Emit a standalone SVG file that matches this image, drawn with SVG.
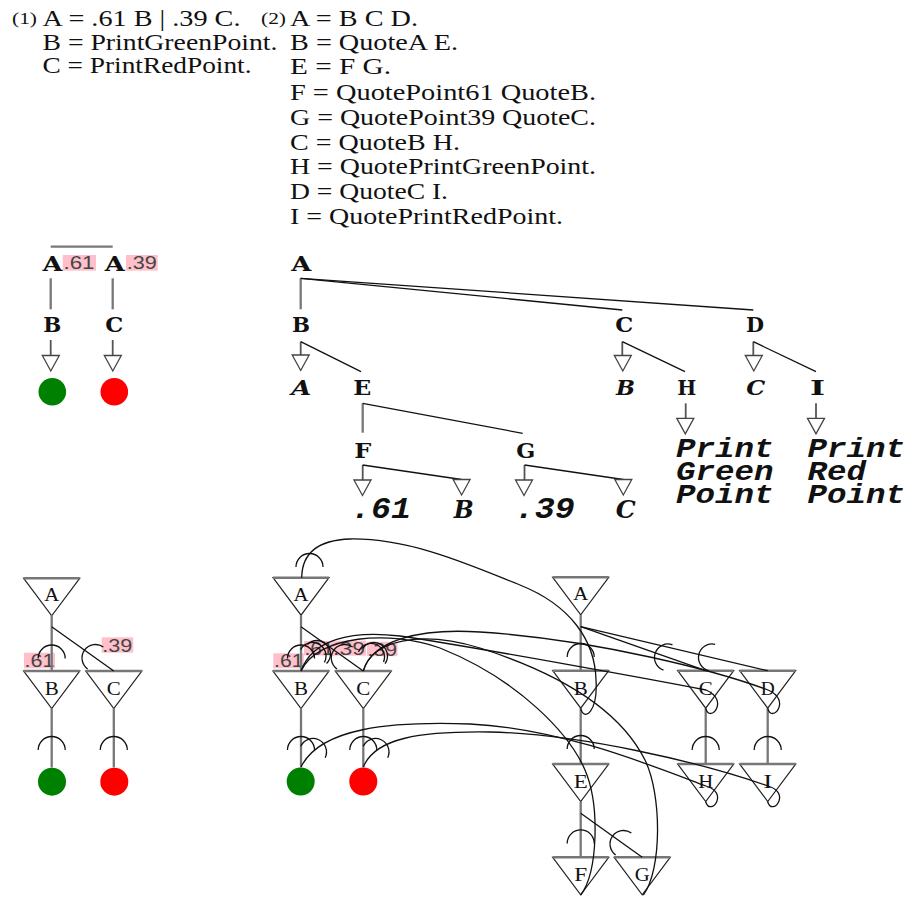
<svg xmlns="http://www.w3.org/2000/svg" width="906" height="905" viewBox="0 0 906 905">
<style>
.t{font-family:"Liberation Serif","Times New Roman",serif;font-size:23px;fill:#111}
.n{font-family:"DejaVu Serif","Liberation Serif",serif;font-weight:bold;font-size:20.5px;fill:#111;text-anchor:middle}
.q{font-family:"DejaVu Serif","Liberation Serif",serif;font-weight:bold;font-style:italic;font-size:20.5px;fill:#111;text-anchor:middle}
.qb{font-family:"DejaVu Serif","Liberation Serif",serif;font-weight:bold;font-style:italic;font-size:25px;fill:#111;text-anchor:middle}
.lf{font-family:"Liberation Mono","Courier New",monospace;font-weight:bold;font-style:italic;font-size:30px;fill:#111}
.pp{font-family:"Liberation Mono","Courier New",monospace;font-weight:bold;font-style:italic;font-size:27px;fill:#111}
.tl{font-family:"Liberation Serif","Times New Roman",serif;font-size:19px;fill:#111;text-anchor:middle}
.pl{font-family:"Liberation Sans",Arial,sans-serif;font-size:17.5px;fill:#444}
.pk{fill:#ffc0cb}
.g{stroke:#777;stroke-width:2.3;fill:none}
.k{stroke:#111;stroke-width:1.3;fill:none}
.s{stroke:#555;stroke-width:1.8;fill:none}
.ar{fill:#fff;stroke:#444;stroke-width:1.3}
.tri{fill:#fff;stroke:#222;stroke-width:1.2}
.top{stroke:#777;stroke-width:2.5}
.cv{stroke:#111;stroke-width:1.3;fill:none}
.gr{fill:#008000}
.rd{fill:#ff0000}
</style>
<defs>
<path id="cap" d="M-13.5,0 A13.5,13.5 0 0 1 13.5,0" fill="none" stroke="#111" stroke-width="1.3"/>
<path id="arr" d="M-8.5,0 L8.5,0 L0,15.5 Z" class="ar"/>
<path id="tri" d="M-28,0 L28,0 L0,37.5 Z" class="tri"/>
<line id="trit" x1="-28" y1="0" x2="28" y2="0" class="top"/>
</defs>

<g id="grammar1">
<text class="t" x="12" y="24" style="font-size:16.5px" textLength="25" lengthAdjust="spacingAndGlyphs">(1)</text>
<text class="t" x="42.5" y="25.5" textLength="198" lengthAdjust="spacingAndGlyphs">A = .61 B | .39 C.</text>
<text class="t" x="42.5" y="49.5" textLength="235" lengthAdjust="spacingAndGlyphs">B = PrintGreenPoint.</text>
<text class="t" x="42.5" y="73" textLength="209" lengthAdjust="spacingAndGlyphs">C = PrintRedPoint.</text>
</g>
<g id="grammar2">
<text class="t" x="261" y="24" style="font-size:16.5px" textLength="25" lengthAdjust="spacingAndGlyphs">(2)</text>
<text class="t" x="290" y="26" textLength="128" lengthAdjust="spacingAndGlyphs">A = B C D.</text>
<text class="t" x="290" y="50" textLength="168" lengthAdjust="spacingAndGlyphs">B = QuoteA E.</text>
<text class="t" x="290" y="74" textLength="101" lengthAdjust="spacingAndGlyphs">E = F G.</text>
<text class="t" x="290" y="99.5" textLength="306" lengthAdjust="spacingAndGlyphs">F = QuotePoint61 QuoteB.</text>
<text class="t" x="290" y="124.5" textLength="306" lengthAdjust="spacingAndGlyphs">G = QuotePoint39 QuoteC.</text>
<text class="t" x="290" y="149.5" textLength="170" lengthAdjust="spacingAndGlyphs">C = QuoteB H.</text>
<text class="t" x="290" y="174" textLength="306" lengthAdjust="spacingAndGlyphs">H = QuotePrintGreenPoint.</text>
<text class="t" x="290" y="199" textLength="158" lengthAdjust="spacingAndGlyphs">D = QuoteC I.</text>
<text class="t" x="290" y="224" textLength="273" lengthAdjust="spacingAndGlyphs">I = QuotePrintRedPoint.</text>
</g>

<!-- top-left tree -->
<g id="t1-edges">
<line class="g" x1="50.7" y1="246.7" x2="112.7" y2="246.7"/>
<line class="g" x1="50.7" y1="278.3" x2="50.7" y2="309.3"/>
<line class="g" x1="112.7" y1="278.3" x2="112.7" y2="309.3"/>
<line class="s" x1="50.7" y1="340" x2="50.7" y2="355"/>
<line class="s" x1="112.7" y1="340" x2="112.7" y2="355"/>
<use href="#arr" transform="translate(50.8,355.5)"/>
<use href="#arr" transform="translate(112.8,355.5)"/>
</g>
<g id="t1-A1"><text class="n" x="52.5" y="270.5" textLength="20" lengthAdjust="spacingAndGlyphs">A</text><rect class="pk" x="62.7" y="255" width="33.3" height="15.7"/><text class="pl" x="63.5" y="269" textLength="31" lengthAdjust="spacingAndGlyphs">.61</text></g>
<g id="t1-A2"><text class="n" x="114.7" y="270.5" textLength="20" lengthAdjust="spacingAndGlyphs">A</text><rect class="pk" x="126" y="255" width="31.7" height="15.7"/><text class="pl" x="126.8" y="269" textLength="30" lengthAdjust="spacingAndGlyphs">.39</text></g>
<g id="t1-B"><text class="n" x="52.2" y="331.7" textLength="18" lengthAdjust="spacingAndGlyphs">B</text></g>
<g id="t1-C"><text class="n" x="114.3" y="331.7" textLength="18" lengthAdjust="spacingAndGlyphs">C</text></g>
<g id="t1-green"><circle class="gr" cx="52.3" cy="391.7" r="13.8"/></g>
<g id="t1-red"><circle class="rd" cx="114.3" cy="391.7" r="13.8"/></g>

<!-- top-middle tree -->
<g id="t2-edges">
<line class="g" x1="300.7" y1="278.3" x2="300.7" y2="309.3"/>
<line class="k" x1="300.7" y1="278.3" x2="622.3" y2="310"/>
<line class="k" x1="300.7" y1="278.3" x2="753.3" y2="310"/>
<line class="s" x1="300.7" y1="341.7" x2="300.7" y2="355"/>
<use href="#arr" transform="translate(300.7,355)"/>
<line class="k" x1="300.7" y1="341.7" x2="361" y2="371.7"/>
<line class="g" x1="362.7" y1="403.3" x2="362.7" y2="432.7"/>
<line class="k" x1="362.7" y1="403.3" x2="522.7" y2="433.3"/>
<line class="s" x1="362.7" y1="465" x2="362.7" y2="480"/>
<use href="#arr" transform="translate(362.5,480)"/>
<line class="k" x1="362.7" y1="465" x2="461.6" y2="479.5"/>
<use href="#arr" transform="translate(461.6,479.5)"/>
<line class="s" x1="524.5" y1="465" x2="524.5" y2="480"/>
<use href="#arr" transform="translate(524,480)"/>
<line class="k" x1="524.5" y1="465" x2="623.3" y2="479.5"/>
<use href="#arr" transform="translate(623.3,479.5)"/>
<line class="s" x1="622.3" y1="341.7" x2="622.3" y2="355.5"/>
<use href="#arr" transform="translate(622.8,355.5)"/>
<line class="k" x1="622.3" y1="341.7" x2="685" y2="371.7"/>
<line class="s" x1="753.3" y1="341.7" x2="753.3" y2="355.5"/>
<use href="#arr" transform="translate(753.8,355.5)"/>
<line class="k" x1="753.3" y1="341.7" x2="816" y2="371.7"/>
<line class="s" x1="685.7" y1="403.3" x2="685.7" y2="418.3"/>
<use href="#arr" transform="translate(685.3,418.3)"/>
<line class="s" x1="816" y1="403.3" x2="816" y2="418.3"/>
<use href="#arr" transform="translate(816,418.3)"/>
</g>
<g id="t2-A"><text class="n" x="301.2" y="270.7" textLength="20" lengthAdjust="spacingAndGlyphs">A</text></g>
<g id="t2-B"><text class="n" x="301" y="331.7" textLength="18" lengthAdjust="spacingAndGlyphs">B</text></g>
<g id="t2-qA"><text class="q" x="301.3" y="395" textLength="20" lengthAdjust="spacingAndGlyphs">A</text></g>
<g id="t2-E"><text class="n" x="362.3" y="395" textLength="18" lengthAdjust="spacingAndGlyphs">E</text></g>
<g id="t2-F"><text class="n" x="362.8" y="458" textLength="17" lengthAdjust="spacingAndGlyphs">F</text></g>
<g id="t2-G"><text class="n" x="525.8" y="458" textLength="19" lengthAdjust="spacingAndGlyphs">G</text></g>
<g id="t2-p61"><text class="lf" x="351" y="518" textLength="60" lengthAdjust="spacingAndGlyphs">.61</text></g>
<g id="t2-qB2"><text class="qb" x="463.8" y="518" textLength="20" lengthAdjust="spacingAndGlyphs">B</text></g>
<g id="t2-p39"><text class="lf" x="514.7" y="518" textLength="60" lengthAdjust="spacingAndGlyphs">.39</text></g>
<g id="t2-qC2"><text class="qb" x="625.8" y="518" textLength="20" lengthAdjust="spacingAndGlyphs">C</text></g>
<g id="t2-C"><text class="n" x="624.3" y="331.7" textLength="18" lengthAdjust="spacingAndGlyphs">C</text></g>
<g id="t2-qB"><text class="q" x="625.5" y="395" textLength="19" lengthAdjust="spacingAndGlyphs">B</text></g>
<g id="t2-H"><text class="n" x="686.7" y="395" textLength="19" lengthAdjust="spacingAndGlyphs">H</text></g>
<g id="t2-D"><text class="n" x="755" y="331.7" textLength="18" lengthAdjust="spacingAndGlyphs">D</text></g>
<g id="t2-qC"><text class="q" x="755.8" y="395" textLength="19" lengthAdjust="spacingAndGlyphs">C</text></g>
<g id="t2-I"><text class="n" x="817.5" y="395" textLength="15" lengthAdjust="spacingAndGlyphs">I</text></g>
<g id="t2-pgp">
<text class="pp"><tspan x="676" y="456.7" textLength="97.5" lengthAdjust="spacingAndGlyphs">Print</tspan><tspan x="676" y="480" textLength="97.5" lengthAdjust="spacingAndGlyphs">Green</tspan><tspan x="676" y="502.7" textLength="97.5" lengthAdjust="spacingAndGlyphs">Point</tspan></text>
</g>
<g id="t2-prp">
<text class="pp"><tspan x="807.5" y="456.7" textLength="97.5" lengthAdjust="spacingAndGlyphs">Print</tspan><tspan x="807.5" y="480" textLength="58.5" lengthAdjust="spacingAndGlyphs">Red</tspan><tspan x="807.5" y="502.7" textLength="97.5" lengthAdjust="spacingAndGlyphs">Point</tspan></text>
</g>

<!-- labels (bottom) -->
<g id="labels">
<rect class="pk" x="24" y="652.7" width="31" height="15.6"/><text class="pl" x="24.5" y="667" textLength="30" lengthAdjust="spacingAndGlyphs">.61</text>
<rect class="pk" x="101.7" y="637.3" width="31.6" height="15.4"/><text class="pl" x="102.3" y="651.5" textLength="30" lengthAdjust="spacingAndGlyphs">.39</text>
<rect class="pk" x="273.3" y="653.3" width="30.5" height="15"/><text class="pl" x="274" y="667.3" textLength="29.5" lengthAdjust="spacingAndGlyphs">.61</text>
<rect class="pk" x="304" y="641" width="30" height="14.5"/><text class="pl" x="304.5" y="655" textLength="29" lengthAdjust="spacingAndGlyphs">.61</text>
<rect class="pk" x="332" y="640.7" width="34" height="15"/><text class="pl" x="333" y="654.7" textLength="32" lengthAdjust="spacingAndGlyphs">.39</text>
<rect class="pk" x="367" y="641.7" width="30.5" height="14.5"/><text class="pl" x="367.5" y="655.7" textLength="29.5" lengthAdjust="spacingAndGlyphs">.39</text>
</g>

<!-- bottom-left diagram nodes -->
<g id="b1-A" transform="translate(51.7,578.3)"><use href="#tri"/><use href="#trit"/><text class="tl" x="0" y="23" textLength="15" lengthAdjust="spacingAndGlyphs">A</text></g>
<g id="b1-B" transform="translate(51.7,671)"><use href="#tri"/><use href="#trit"/><text class="tl" x="0" y="24" textLength="14" lengthAdjust="spacingAndGlyphs">B</text></g>
<g id="b1-C" transform="translate(113.8,671)"><use href="#tri"/><use href="#trit"/><text class="tl" x="0" y="24" textLength="14" lengthAdjust="spacingAndGlyphs">C</text></g>
<g id="b1-green"><circle class="gr" cx="52" cy="781.7" r="14"/></g>
<g id="b1-red"><circle class="rd" cx="114.3" cy="781.7" r="14"/></g>

<!-- bottom-middle diagram nodes -->
<g id="b2-A" transform="translate(301,577.7)"><use href="#tri"/><use href="#trit"/><text class="tl" x="0" y="23" textLength="15" lengthAdjust="spacingAndGlyphs">A</text></g>
<g id="b2-B" transform="translate(301,671)"><use href="#tri"/><use href="#trit"/><text class="tl" x="0" y="24" textLength="14" lengthAdjust="spacingAndGlyphs">B</text></g>
<g id="b2-C" transform="translate(363.3,671)"><use href="#tri"/><use href="#trit"/><text class="tl" x="0" y="24" textLength="14" lengthAdjust="spacingAndGlyphs">C</text></g>
<g id="b2-green"><circle class="gr" cx="300.7" cy="781.5" r="14"/></g>
<g id="b2-red"><circle class="rd" cx="363.3" cy="781.5" r="14"/></g>

<!-- bottom-right diagram nodes -->
<g id="b3-A" transform="translate(580.7,577.3)"><use href="#tri"/><use href="#trit"/><text class="tl" x="0" y="23" textLength="15" lengthAdjust="spacingAndGlyphs">A</text></g>
<g id="b3-B" transform="translate(580.7,670.7)"><use href="#tri"/><use href="#trit"/><text class="tl" x="0" y="24" textLength="14" lengthAdjust="spacingAndGlyphs">B</text></g>
<g id="b3-C" transform="translate(705.7,670.7)"><use href="#tri"/><use href="#trit"/><text class="tl" x="0" y="24" textLength="14" lengthAdjust="spacingAndGlyphs">C</text></g>
<g id="b3-D" transform="translate(767.7,670.7)"><use href="#tri"/><use href="#trit"/><text class="tl" x="0" y="24" textLength="14" lengthAdjust="spacingAndGlyphs">D</text></g>
<g id="b3-E" transform="translate(580.7,764)"><use href="#tri"/><use href="#trit"/><text class="tl" x="0" y="24" textLength="14" lengthAdjust="spacingAndGlyphs">E</text></g>
<g id="b3-H" transform="translate(705.7,764)"><use href="#tri"/><use href="#trit"/><text class="tl" x="0" y="24" textLength="15" lengthAdjust="spacingAndGlyphs">H</text></g>
<g id="b3-I" transform="translate(767.7,764)"><use href="#tri"/><use href="#trit"/><text class="tl" x="0" y="24" textLength="9" lengthAdjust="spacingAndGlyphs">I</text></g>
<g id="b3-F" transform="translate(580.7,857.3)"><use href="#tri"/><use href="#trit"/><text class="tl" x="0" y="24" textLength="13" lengthAdjust="spacingAndGlyphs">F</text></g>
<g id="b3-G" transform="translate(642.2,857.3)"><use href="#tri"/><use href="#trit"/><text class="tl" x="0" y="24" textLength="15" lengthAdjust="spacingAndGlyphs">G</text></g>

<!-- connectors -->
<g id="connectors">
<line class="g" x1="51.7" y1="615" x2="51.7" y2="671"/>
<line class="k" x1="51.7" y1="626.7" x2="113.8" y2="671"/>
<use href="#cap" transform="translate(51.7,658.5)"/>
<use href="#cap" transform="translate(95.5,658) rotate(-54.4)"/>
<line class="g" x1="51.7" y1="708.3" x2="51.7" y2="767.5"/>
<use href="#cap" transform="translate(51.7,750)"/>
<line class="g" x1="113.8" y1="708.3" x2="113.8" y2="767.5"/>
<use href="#cap" transform="translate(113.8,750)"/>
<line class="g" x1="301" y1="615" x2="301" y2="671"/>
<line class="k" x1="301" y1="626.7" x2="363.3" y2="671"/>
<use href="#cap" transform="translate(301,658.5)"/>
<use href="#cap" transform="translate(344.8,658) rotate(-54.4)"/>
<line class="g" x1="301" y1="708.3" x2="301" y2="767.5"/>
<use href="#cap" transform="translate(301,750)"/>
<line class="g" x1="363.3" y1="708.3" x2="363.3" y2="767.5"/>
<use href="#cap" transform="translate(363.3,750)"/>
<line class="g" x1="580.7" y1="615" x2="580.7" y2="670.7"/>
<use href="#cap" transform="translate(580.7,657)"/>
<line class="k" x1="580.7" y1="626.7" x2="705.7" y2="670.7"/>
<use href="#cap" transform="translate(668,657.5) rotate(-70.6)"/>
<line class="k" x1="580.7" y1="626.7" x2="767.7" y2="670.7"/>
<use href="#cap" transform="translate(712,657.5) rotate(-76.8)"/>
<line class="g" x1="580.7" y1="708.3" x2="580.7" y2="764"/>
<use href="#cap" transform="translate(580.7,749)"/>
<line class="g" x1="580.7" y1="801.7" x2="580.7" y2="857.3"/>
<use href="#cap" transform="translate(580.7,843.4)"/>
<line class="k" x1="580.7" y1="813.3" x2="642.2" y2="857.3"/>
<use href="#cap" transform="translate(623.5,844) rotate(-54.4)"/>
<line class="g" x1="705.7" y1="708.3" x2="705.7" y2="764"/>
<use href="#cap" transform="translate(705.7,750)"/>
<line class="g" x1="767.7" y1="708.3" x2="767.7" y2="764"/>
<use href="#cap" transform="translate(767.7,750)"/>
<path class="cv" d="M580.7,708.3 C584,722 598,712 596,680 C595,640 570,605 520,585 C470,565 410,538 350,539 C320,540 302,552 301.7,577.7"/>
<use href="#cap" transform="translate(309.5,567)"/>
<path class="cv" d="M705.7,708.3 C710,724 730,700 706,690 C660,681 480,648 400,636 C350,630 312,640 301,671"/>
<path class="cv" d="M580.7,895 C598,872 600,805 585,770 C570,735 520,680 440,648 C390,630 318,635 301,671"/>
<use href="#cap" transform="translate(312.5,656) rotate(28)"/>
<use href="#cap" transform="translate(317,654) rotate(45)"/>
<path class="cv" d="M767.7,708.3 C772,724 792,700 768,690 C720,672 600,640 480,632 C420,628 372,640 363.3,671"/>
<path class="cv" d="M643.3,895 C662,870 662,795 645,760 C625,720 580,680 480,648 C420,630 372,640 363.3,671"/>
<use href="#cap" transform="translate(371,657) rotate(22)"/>
<use href="#cap" transform="translate(374,656) rotate(35)"/>
<path class="cv" d="M705.7,801.7 C710,817 730,793 706,786 C650,765 560,728 470,724 C390,721 320,728 301,767"/>
<use href="#cap" transform="translate(313,752) rotate(25)"/>
<path class="cv" d="M767.7,801.7 C772,817 792,793 768,786 C700,762 580,734 490,732 C420,731 375,738 363.3,767"/>
<use href="#cap" transform="translate(375.5,752) rotate(25)"/>
</g>
</svg>
